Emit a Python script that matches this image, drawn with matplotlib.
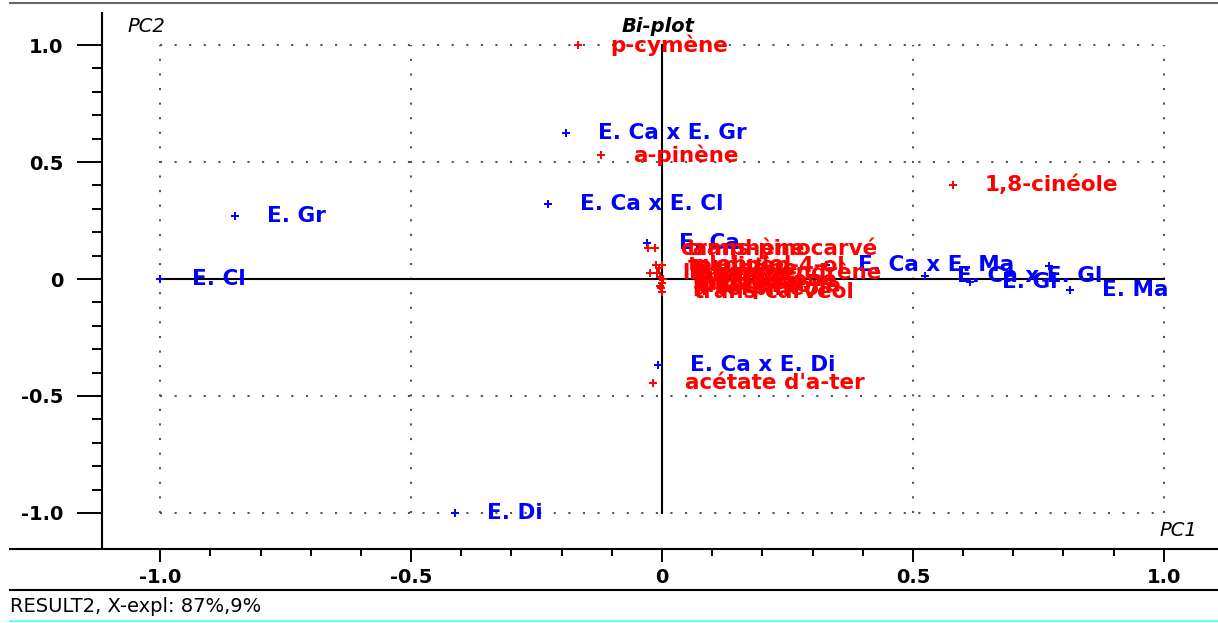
import matplotlib.pyplot as plt
from matplotlib.lines import Line2D
import numpy as np

# samples (blue)
sample_names = ["E. Cl", "E. Gr", "E. Ca x E. Gr", "E. Ca x E. Cl", "E. Ca",
                "E. Ca x E. Di", "E. Di", "E. Ca x E. Ma", "E. Ca x E. Gl",
                "E. Gl", "", "E. Ma"]
sample_pc1 = [-1.0, -0.851, -0.191, -0.227, -0.030, -0.008, -0.412, 0.327, 0.524, 0.614, 0.771, 0.813]
sample_pc2 = [0.0, 0.269, 0.624, 0.321, 0.154, -0.368, -1.0, 0.060, 0.013, -0.013, 0.056, -0.047]

# variables (red), names cut at 15 chars like the original software
var_names = ["p-cymène", "a-pinène", "1,8-cinéole", "acétate d'a-ter",
             "camphène", "trans-pinocarvé", "terpinèn-4-ol", "globulol",
             "limonène", "aromadendrène", "linalol", "b-pinène",
             "g-terpinène", "myrtenal", "a-terpinéol", "pinocarvone", "trans-carvéol"]
var_pc1 = [-0.167, -0.122, 0.580, -0.018, -0.028, -0.014, -0.012, 0.0,
           -0.024, -0.010, -0.004, -0.006, 0.002, 0.0, -0.002, -0.004, 0.0]
var_pc2 = [1.0, 0.530, 0.402, -0.444, 0.132, 0.132, 0.060, 0.060,
           0.026, 0.026, 0.009, 0.045, 0.0, -0.017, -0.038, -0.030, -0.056]

xticks = [-1.0, -0.5, 0.0, 0.5, 1.0]
xtick_labels = ["-1.0", "-0.5", "0", "0.5", "1.0"]
yticks = [-1.0, -0.5, 0.0, 0.5, 1.0]
ytick_labels = ["-1.0", "-0.5", "0", "0.5", "1.0"]

W, H = 1218, 623
fig = plt.figure(figsize=(W / 100, H / 100), dpi=100)
ax = fig.add_axes([102 / W, (H - 549) / H, (W - 102) / W, (549 - 13) / H])
ax.set_xlim(-1.116, 1.108)
ax.set_ylim(-1.154, 1.137)

# dotted grid square and cross
for v in [-1.0, -0.5, 0.5, 1.0]:
    ax.plot([-1, 1], [v, v], color="#555555", lw=1.5, ls=(0, (1, 6)), zorder=1)
    ax.plot([v, v], [-1, 1], color="#555555", lw=1.5, ls=(0, (1, 6)), zorder=1)
# zero lines
ax.plot([-1, 1], [0, 0], color="black", lw=1.5, zorder=2)
ax.plot([0, 0], [-1, 1], color="black", lw=1.5, zorder=2)

# samples
ax.plot(sample_pc1, sample_pc2, ls="none", marker="+", ms=6, mew=1.4, color="#0000ff", zorder=3)
for name, x, y in zip(sample_names, sample_pc1, sample_pc2):
    if name:
        ax.annotate(name, (x, y), xytext=(23, 0), textcoords="offset points",
                    ha="left", va="center", fontsize=15.5, fontweight="bold",
                    color="#0000ff", zorder=4)

# variables
ax.plot(var_pc1, var_pc2, ls="none", marker="+", ms=6, mew=1.4, color="#ff0000", zorder=5)
for name, x, y in zip(var_names, var_pc1, var_pc2):
    ax.annotate(name, (x, y), xytext=(23, 0), textcoords="offset points",
                ha="left", va="center", fontsize=15.5, fontweight="bold",
                color="#ff0000", zorder=6)

# axes look
ax.spines["right"].set_visible(False)
ax.spines["top"].set_visible(False)
ax.spines["left"].set_linewidth(1.5)
ax.spines["bottom"].set_linewidth(1.5)
ax.set_xticks(xticks)
ax.set_xticklabels(xtick_labels, fontsize=14, fontweight="bold")
ax.set_yticks(yticks)
ax.set_yticklabels(ytick_labels, fontsize=14, fontweight="bold")
minor = [round(v, 1) for v in np.arange(-0.9, 0.91, 0.1) if round(v * 10) % 5 != 0]
ax.set_xticks(minor, minor=True)
ax.set_yticks(minor, minor=True)
ax.tick_params(axis="x", which="major", direction="out", length=9, width=1.4, pad=5)
ax.tick_params(axis="x", which="minor", direction="out", length=5, width=1.4)
ax.tick_params(axis="y", which="major", direction="out", length=18, width=1.4, pad=10)
ax.tick_params(axis="y", which="minor", direction="out", length=7, width=1.4)

ax.text(-1.066, 1.081, "PC2", fontsize=14, style="italic", ha="left", va="center")
ax.text(-0.008, 1.081, "Bi-plot", fontsize=14, style="italic", fontweight="bold", ha="center", va="center")
ax.text(1.066, -1.073, "PC1", fontsize=14, style="italic", ha="right", va="center")

# frame lines of the window
fig.add_artist(Line2D([10 / W, 1], [1 - 3 / H, 1 - 3 / H], color="#666666", lw=1.5))
fig.add_artist(Line2D([10 / W, 102 / W], [(H - 549) / H] * 2, color="black", lw=1.5))
fig.add_artist(Line2D([10 / W, 1], [(H - 590) / H] * 2, color="black", lw=1.5))
fig.add_artist(Line2D([10 / W, 1], [(H - 621) / H] * 2, color="#66ffff", lw=1.5))
fig.text(10 / W, (H - 606) / H, "RESULT2, X-expl: 87%,9%", fontsize=14, ha="left", va="center")

plt.savefig("out.png", dpi=100)
